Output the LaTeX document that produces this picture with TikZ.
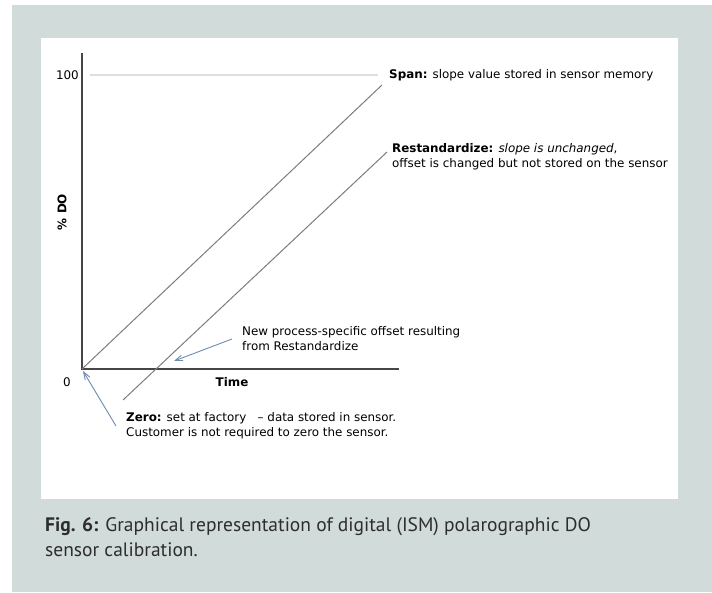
\documentclass[tikz,border=0pt]{standalone}
\usepackage{fontspec}
\setmainfont{DejaVu Sans}
\newfontfamily\capfont{PT Sans}
\usetikzlibrary{arrows.meta}
\definecolor{panelgrey}{RGB}{208,219,218}
\definecolor{axisgrey}{RGB}{70,70,70}
\definecolor{diaggrey}{RGB}{125,125,125}
\definecolor{lightline}{RGB}{222,222,222}
\definecolor{notearrow}{RGB}{110,140,175}
\definecolor{captxt}{RGB}{45,45,45}
\begin{document}
\begin{tikzpicture}[x=1pt,y=-1pt,
  axisline/.style={draw=axisgrey,line width=1.5pt},
  diagline/.style={draw=diaggrey,line width=1pt},
  hundredline/.style={draw=lightline,line width=1.5pt},
  notearr/.style={draw=notearrow,line width=0.9pt,-{Straight Barb[angle=40:8pt]}},
  lbl/.style={inner sep=0pt,font=\fontsize{11.9}{15}\selectfont,text=black},
  caplbl/.style={inner sep=0pt,font=\capfont\fontsize{19.5}{25}\selectfont,text=captxt,align=left}]
\useasboundingbox (0,0) rectangle (712,592);
\fill[white] (0,0) rectangle (712,592);
\fill[panelgrey] (12,5) rectangle (712,592);
\fill[white] (41,38) rectangle (678,499);
% axes
\coordinate (O) at (82,369);
\coordinate (ytop) at (82,53);
\coordinate (xend) at (399,369);
\draw[axisline] (ytop) -- (O) -- (xend);
\coordinate (hl1) at (90,75);
\coordinate (hl2) at (378,75);
\draw[hundredline] (hl1) -- (hl2);
% diagonal lines
\coordinate (spanend) at (382,85);
\draw[diagline] (O) -- (spanend);
\coordinate (rs1) at (123,400);
\coordinate (rs2) at (387,152);
\draw[diagline] (rs1) -- (rs2);
% axis labels
\node[lbl,anchor=east] (l100) at (79,75) {100};
\node[lbl] (l0) at (67,382) {0};
\node[lbl,font=\fontsize{11.9}{15}\selectfont\bfseries] (ltime) at (232,382) {Time};
\node[lbl,font=\fontsize{11.9}{15}\selectfont\bfseries,rotate=90] (ldo) at (62,212) {\% DO};
% annotations
\node[lbl,anchor=west] (span) at (389,75) {\textbf{Span:} slope value stored in sensor memory};
\node[lbl,anchor=west,align=left] (rest) at (392,157) {\textbf{Restandardize:} \textit{slope is unchanged},\\offset is changed but not stored on the sensor};
\node[lbl,anchor=west,align=left] (newoff) at (242,339) {New process-specific offset resulting\\from Restandardize};
\node[lbl,anchor=west,align=left] (zero) at (126,425.5) {\textbf{Zero:} set at factory\ \ \ – data stored in sensor.\\Customer is not required to zero the sensor.};
% arrows
\coordinate (nt) at (232,339);
\coordinate (nh) at (174,361);
\draw[notearr] (nt) -- (nh);
\coordinate (zt) at (116,426);
\coordinate (zh) at (83,371);
\draw[notearr] (zt) -- (zh);
% caption
\node[caplbl,anchor=base west] (cap) at (45,556) {\textbf{Fig. 6:} Graphical representation of digital (ISM) polarographic DO\\sensor calibration.};
\end{tikzpicture}
\end{document}
